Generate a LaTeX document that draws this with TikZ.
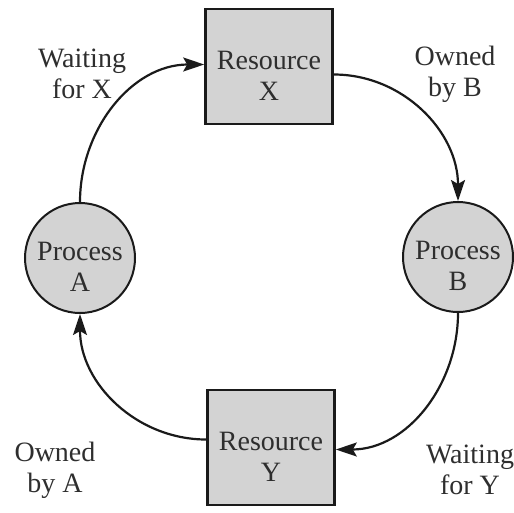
\documentclass[tikz,border=0pt]{standalone}
\usepackage{fontspec}
\setmainfont{Liberation Serif}
\usetikzlibrary{arrows.meta}
\definecolor{boxfill}{HTML}{D3D3D3}
\definecolor{inktext}{HTML}{2E2E2E}
\definecolor{inkline}{HTML}{1A1A1A}
\begin{document}
\begin{tikzpicture}[x=1pt,y=-1pt,
  every node/.style={font=\fontsize{28}{31}\selectfont, text=inktext, align=center},
  resbox/.style={draw=inkline, line width=2.6pt, fill=boxfill, minimum width=127pt, minimum height=115pt, inner sep=0pt},
  procnode/.style={circle, draw=inkline, line width=2pt, fill=boxfill, minimum size=110pt, inner sep=0pt},
  inner/.style={label={[yshift=-9pt]center:#1}},
  link/.style={draw=inkline, line width=2.2pt, -{Stealth[length=21pt, width=14pt, inset=4pt]}},
  lbl/.style={inner sep=0pt}]
  \useasboundingbox (0,0) rectangle (514,512);
  % resources and processes (text set slightly below centre)
  \node[resbox, inner={Resource\\X}] (X) at (269,66.5) {};
  \node[resbox, inner={Resource\\Y}] (Y) at (271,447.5) {};
  \node[procnode, inner={Process\\A}] (A) at (80,258) {};
  \node[procnode, inner={Process\\B}] (B) at (458,257) {};
  % wait-for / owned-by edges
  \draw[link] (A.north) to[out=90,in=180] ([yshift=2pt]X.west);
  \draw[link] ([yshift=-8pt]X.east) to[out=0,in=90] (B.north);
  \draw[link] (B.south) to[out=270,in=0] ([yshift=-2pt]Y.east);
  \draw[link] ([yshift=8pt]Y.west) to[out=180,in=270] (A.south);
  % edge labels
  \node[lbl] (wx) at (82,74) {Waiting\\for X};
  \node[lbl] (ob) at (455,74) {Owned\\by B};
  \node[lbl] (oa) at (55,470) {Owned\\by A};
  \node[lbl] (wy) at (470,470) {Waiting\\for Y};
\end{tikzpicture}
\end{document}
